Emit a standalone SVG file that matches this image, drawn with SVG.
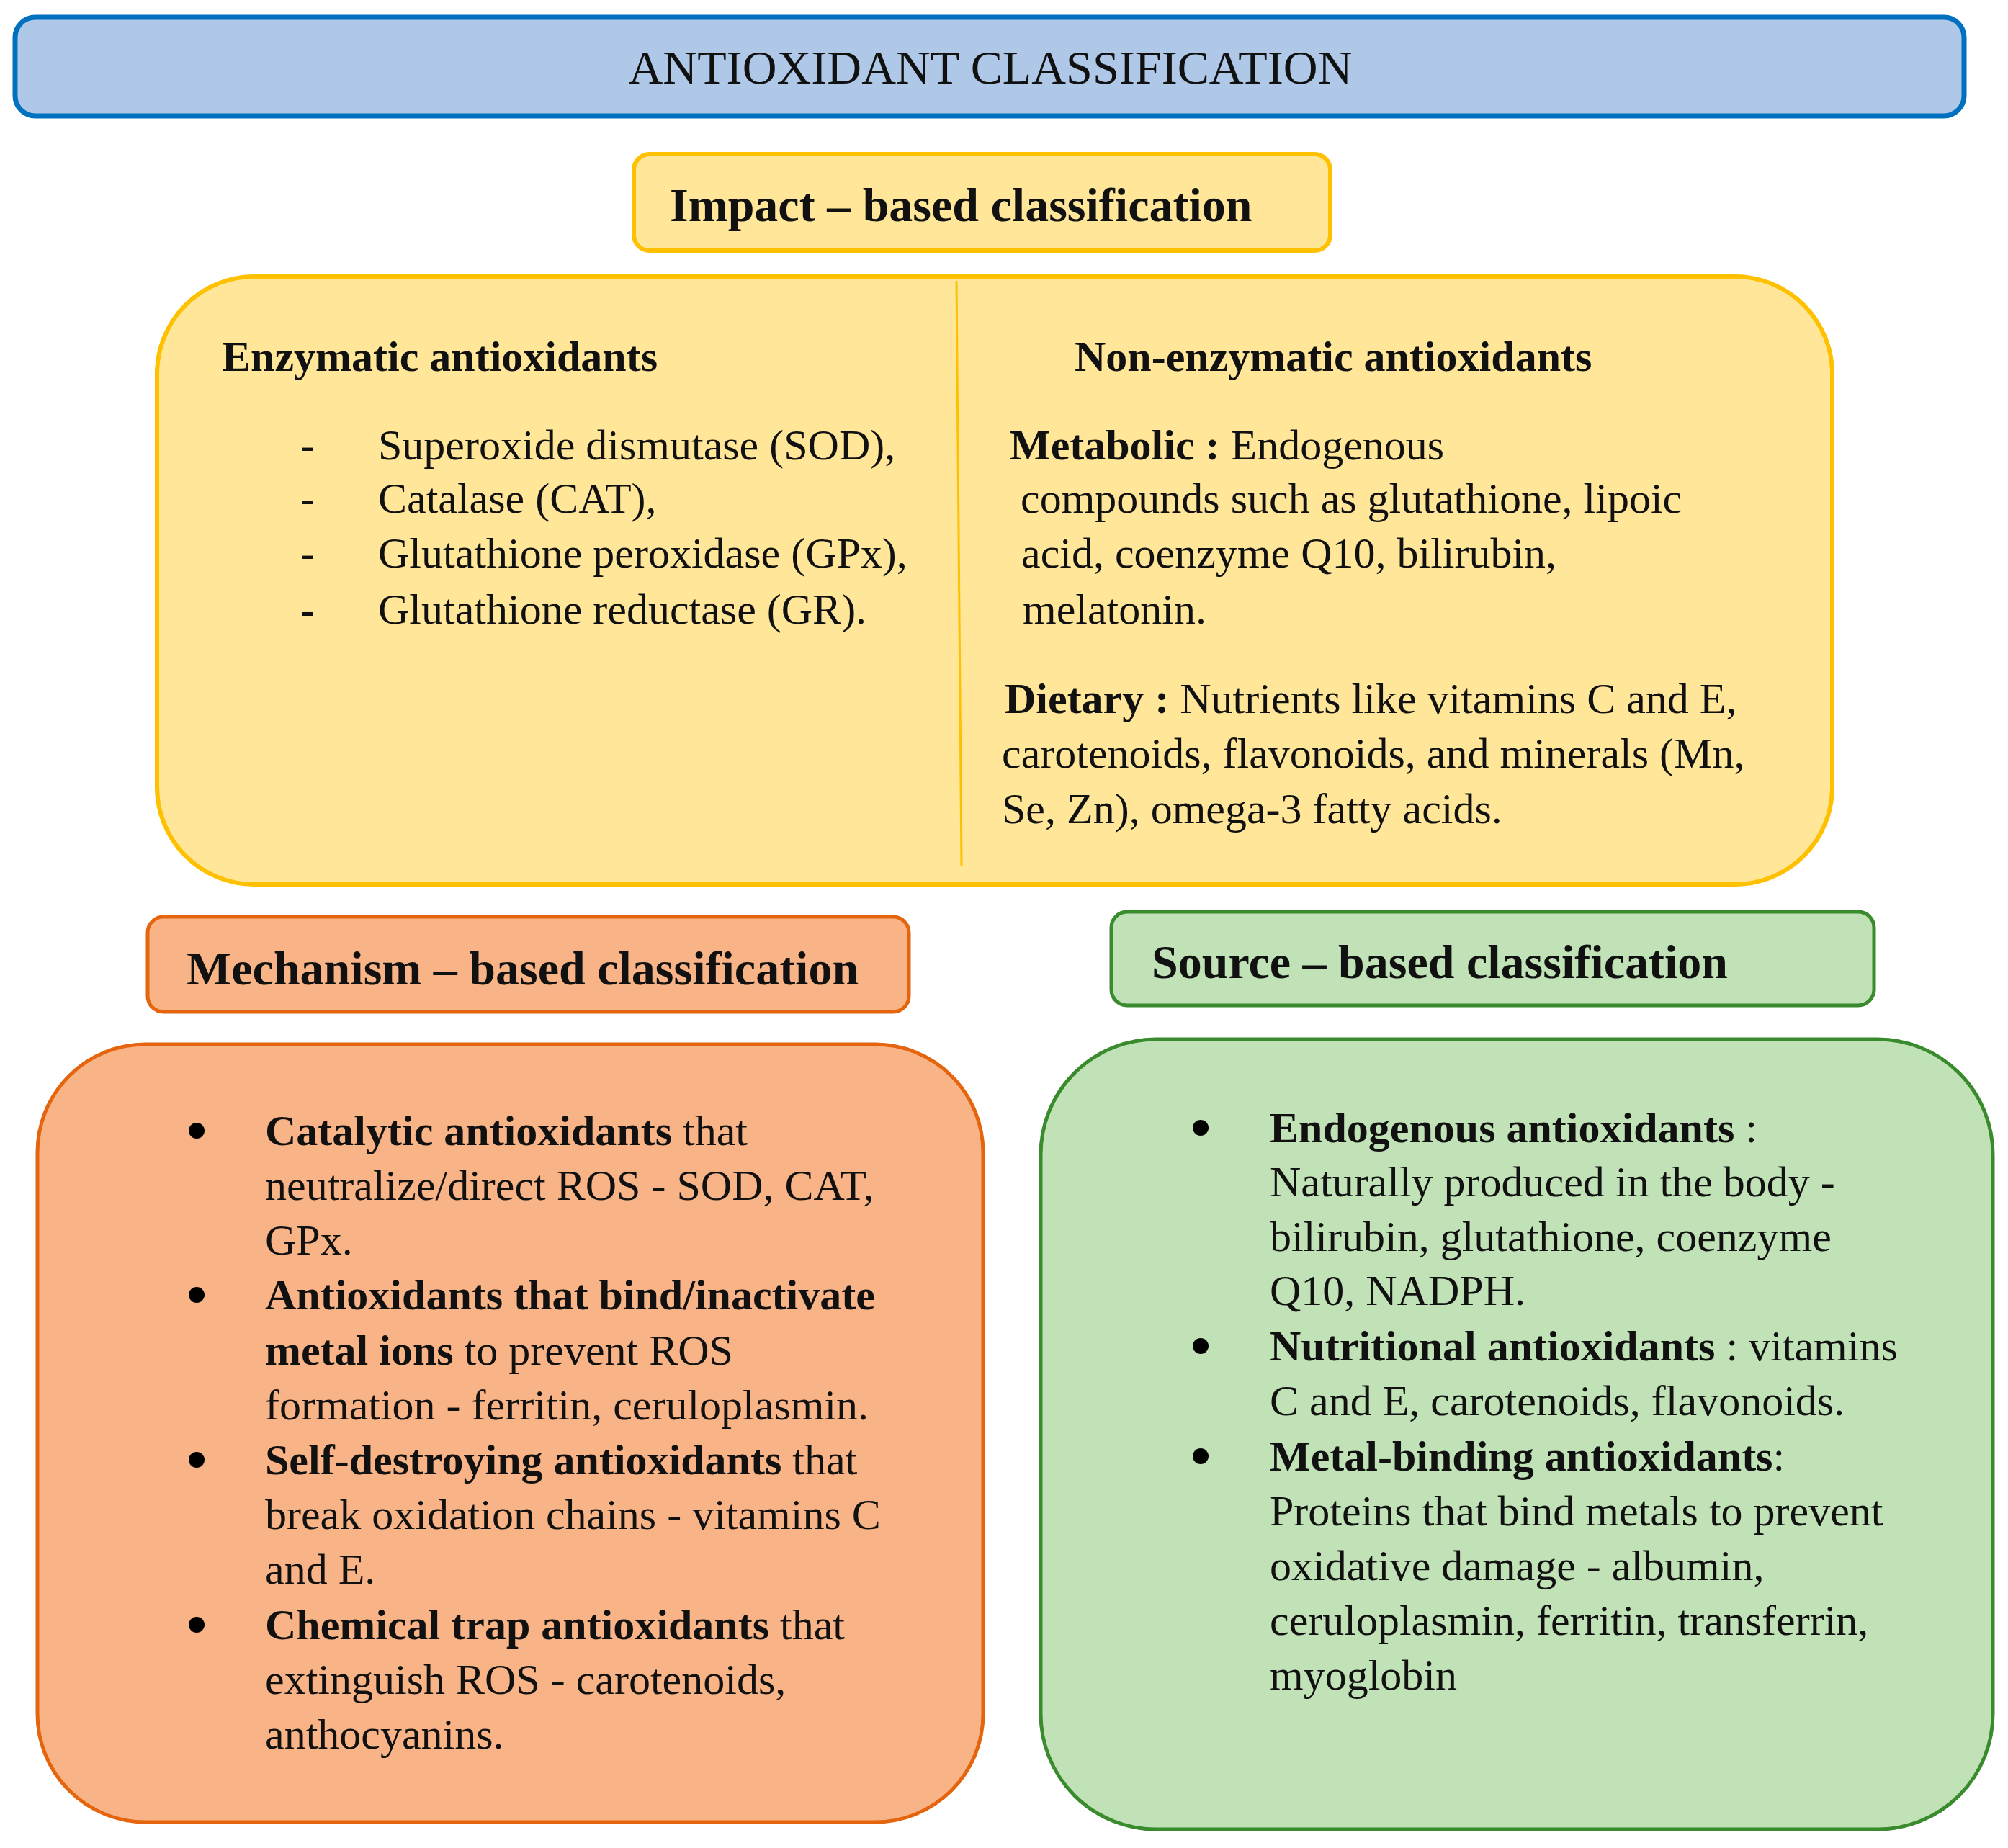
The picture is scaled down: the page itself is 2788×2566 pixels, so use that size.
<svg xmlns="http://www.w3.org/2000/svg" width="2788" height="2566" viewBox="0 0 2788 2566">
<style>
text{font-family:"Liberation Serif","Times New Roman",serif;font-size:60px;fill:#111}
.b{font-weight:bold}
.h{font-size:66px;font-weight:bold}
.t{font-size:66px}
.blue{fill:#B0C8E8;stroke:#0070C0;stroke-width:7}
.yel{fill:#FFE699;stroke:#FFC000;stroke-width:6}
.org{fill:#F8B486;stroke:#E4650E;stroke-width:5}
.grn{fill:#C0E2B6;stroke:#3A8A2E;stroke-width:5}
.dot{fill:#000}
</style>
<rect width="2788" height="2566" fill="#fff"/>
<g id="title">
<rect class="blue" x="21" y="24" width="2706" height="137" rx="28"/>
<text class="t" x="1375" y="116" text-anchor="middle" textLength="1005" lengthAdjust="spacingAndGlyphs">ANTIOXIDANT CLASSIFICATION</text>
</g>
<g id="impact-header">
<rect class="yel" x="880" y="214" width="967" height="134" rx="22"/>
<text class="h" x="930" y="307">Impact – based classification</text>
</g>
<g id="impact-body">
<rect class="yel" x="218" y="384" width="2326" height="844" rx="135"/>
<line x1="1328" y1="390" x2="1335" y2="1202" stroke="#FFC000" stroke-width="3"/>
<text class="b" x="308" y="515">Enzymatic antioxidants</text>
<text x="417" y="638">-</text><text x="525" y="638">Superoxide dismutase (SOD),</text>
<text x="417" y="712">-</text><text x="525" y="712">Catalase (CAT),</text>
<text x="417" y="788">-</text><text x="525" y="788">Glutathione peroxidase (GPx),</text>
<text class="b" x="417" y="866">-</text><text x="525" y="866">Glutathione reductase (GR).</text>
<text class="b" x="1492" y="515">Non-enzymatic antioxidants</text>
<text x="1402" y="638"><tspan class="b">Metabolic :</tspan> Endogenous</text>
<text x="1417" y="712">compounds such as glutathione, lipoic</text>
<text x="1418" y="788">acid, coenzyme Q10, bilirubin,</text>
<text x="1420" y="866">melatonin.</text>
<text x="1395" y="990"><tspan class="b">Dietary :</tspan> Nutrients like vitamins C and E,</text>
<text x="1391" y="1066">carotenoids, flavonoids, and minerals (Mn,</text>
<text x="1391" y="1143">Se, Zn), omega-3 fatty acids.</text>
</g>
<g id="mechanism-header">
<rect class="org" x="205" y="1273" width="1057" height="132" rx="22"/>
<text class="h" x="259" y="1367">Mechanism – based classification</text>
</g>
<g id="mechanism-body">
<rect class="org" x="52" y="1450" width="1313" height="1080" rx="150"/>
<circle class="dot" cx="273" cy="1570" r="11"/>
<circle class="dot" cx="273" cy="1798" r="11"/>
<circle class="dot" cx="273" cy="2027" r="11"/>
<circle class="dot" cx="273" cy="2256" r="11"/>
<text x="368" y="1590"><tspan class="b">Catalytic antioxidants</tspan> that</text>
<text x="368" y="1666">neutralize/direct ROS - SOD, CAT,</text>
<text x="368" y="1742">GPx.</text>
<text class="b" x="368" y="1818">Antioxidants that bind/inactivate</text>
<text x="368" y="1895"><tspan class="b">metal ions</tspan> to prevent ROS</text>
<text x="368" y="1971">formation - ferritin, ceruloplasmin.</text>
<text x="368" y="2047"><tspan class="b">Self-destroying antioxidants</tspan> that</text>
<text x="368" y="2123">break oxidation chains - vitamins C</text>
<text x="368" y="2199">and E.</text>
<text x="368" y="2276"><tspan class="b">Chemical trap antioxidants</tspan> that</text>
<text x="368" y="2352">extinguish ROS - carotenoids,</text>
<text x="368" y="2428">anthocyanins.</text>
</g>
<g id="source-header">
<rect class="grn" x="1543" y="1266" width="1059" height="130" rx="22"/>
<text class="h" x="1599" y="1358">Source – based classification</text>
</g>
<g id="source-body">
<rect class="grn" x="1445" y="1443" width="1322" height="1097" rx="160"/>
<circle class="dot" cx="1667" cy="1566" r="11"/>
<circle class="dot" cx="1667" cy="1869" r="11"/>
<circle class="dot" cx="1667" cy="2022" r="11"/>
<text x="1763" y="1586"><tspan class="b">Endogenous antioxidants</tspan> :</text>
<text x="1763" y="1661">Naturally produced in the body -</text>
<text x="1763" y="1737">bilirubin, glutathione, coenzyme</text>
<text x="1763" y="1812">Q10, NADPH.</text>
<text x="1763" y="1889"><tspan class="b">Nutritional antioxidants</tspan> : vitamins</text>
<text x="1763" y="1965">C and E, carotenoids, flavonoids.</text>
<text x="1763" y="2042"><tspan class="b">Metal-binding antioxidants</tspan>:</text>
<text x="1763" y="2118">Proteins that bind metals to prevent</text>
<text x="1763" y="2194">oxidative damage - albumin,</text>
<text x="1763" y="2270">ceruloplasmin, ferritin, transferrin,</text>
<text x="1763" y="2346">myoglobin</text>
</g>
<g id="connectors"></g>
</svg>
